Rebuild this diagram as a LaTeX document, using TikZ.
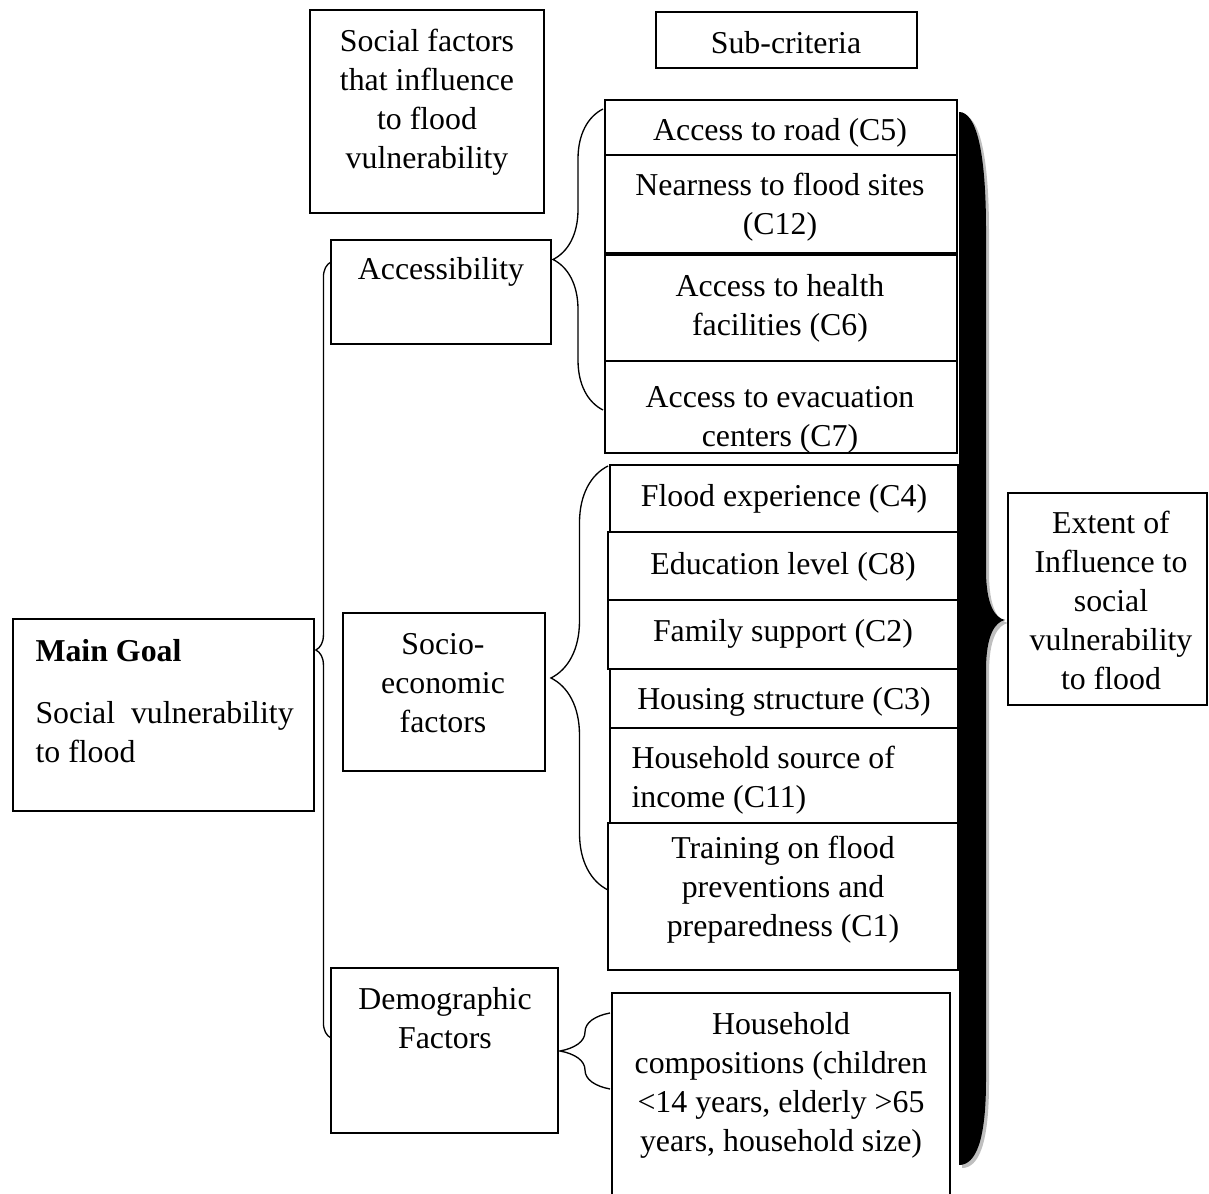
\documentclass[tikz,border=0pt]{standalone}
\usepackage{fontspec}
\setmainfont{Liberation Serif}
\usetikzlibrary{fit,decorations.pathreplacing}
\begin{document}
\begin{tikzpicture}[x=0.377pt,y=-0.377pt,
  box/.style={draw,line width=0.85pt,inner sep=0pt},
  txt/.style={inner sep=0pt,align=center,anchor=north,font=\fontsize{12}{14.7}\selectfont},
  brc/.style={decorate,decoration={brace,amplitude=#1},line width=0.5pt},
  ]
\useasboundingbox (0,0) rectangle (1209,1194);
\clip (0,0) rectangle (1209,1194);

% big black brace (shadow then fill)
\fill[black!25,shift={(3,3)}] (959,1165) -- (959,112) .. controls (976,112) and (986,150) .. (986,230) -- (986,570) .. controls (986,605) and (995,618) .. (1005,620) .. controls (995,622) and (986,635) .. (986,670) -- (986,1080) .. controls (986,1140) and (976,1165) .. (959,1165) -- cycle;
\fill[black] (959,1165) -- (959,112) .. controls (976,112) and (986,150) .. (986,230) -- (986,570) .. controls (986,605) and (995,618) .. (1005,620) .. controls (995,622) and (986,635) .. (986,670) -- (986,1080) .. controls (986,1140) and (976,1165) .. (959,1165) -- cycle;

% boxes
\node[box,fit={(310,10)(544,213)}] (socbox) {};
\node[box,fit={(656,12)(917,68)}] (subbox) {};
\node[box,fit={(331,240)(551,344)}] (accbox) {};
\node[box,fit={(343,613)(545,771)}] (sociobox) {};
\node[box,fit={(331,968)(558,1133)}] (demobox) {};
\node[box,fit={(13,619)(314,811)}] (goalbox) {};
\node[box,fit={(1008,493)(1207,705)}] (extbox) {};
\node[box,fit={(605,100)(957,155)}] (c5box) {};
\node[box,fit={(605,155)(957,253)}] (c12box) {};
\node[box,fit={(605,255)(957,361)}] (c6box) {};
\node[box,fit={(605,361)(957,453)}] (c7box) {};
\node[box,fit={(610,465)(958,532)}] (c4box) {};
\node[box,fit={(608,532)(958,600)}] (c8box) {};
\node[box,fit={(608,600)(958,669)}] (c2box) {};
\node[box,fit={(610,669)(958,728)}] (c3box) {};
\node[box,fit={(610,728)(958,823)}] (c11box) {};
\node[box,fit={(608,823)(958,970)}] (c1box) {};
\node[box,fit={(612,993)(950,1215)}] (housebox) {};

% texts
\node[txt] (tsoc) at (427,29) {Social factors\\that influence\\to flood\\vulnerability};
\node[txt] (tsub) at (786,31) {Sub-criteria};
\node[txt] (tacc) at (441,257) {Accessibility};
\node[txt] (tsocio) at (443,633) {Socio-\\economic\\factors};
\node[txt] (tdemo) at (445,987) {Demographic\\Factors};
\node[txt,anchor=north west,align=left] (tgoal) at (35,639) {\textbf{Main Goal}\\[8.7pt]Social\ \ vulnerability\\to flood};
\node[txt] (text) at (1111,511) {Extent of\\Influence to\\social\\vulnerability\\to flood};
\node[txt] (t5) at (780,118) {Access to road (C5)};
\node[txt] (t12) at (780,173) {Nearness to flood sites\\(C12)};
\node[txt] (t6) at (780,274) {Access to health\\facilities (C6)};
\begin{scope}
\clip (605,361) rectangle (957,452);
\node[txt] (t7) at (780,386) {Access to evacuation\\centers (C7)};
\end{scope}
\node[txt] (t4) at (784,484) {Flood experience (C4)};
\node[txt] (t8) at (783,552) {Education level (C8)};
\node[txt] (t2) at (783,619) {Family support (C2)};
\node[txt] (t3) at (784,687) {Housing structure (C3)};
\node[txt,anchor=north west,align=left] (t11) at (631,746) {Household source of\\income (C11)};
\node[txt] (t1) at (783,836) {Training on flood\\preventions and\\preparedness (C1)};
\node[txt] (thouse) at (781,1012) {Household\\compositions (children\\<14 years, elderly >65\\years, household size)};

% braces
\coordinate (bgA) at (331,1038);
\coordinate (bgB) at (331,262);
\draw[brc=5.7pt] (bgA) -- (bgB);
\coordinate (baA) at (603,410);
\coordinate (baB) at (603,109);
\draw[brc=18.85pt] (baA) -- (baB);
\coordinate (bsA) at (608,890);
\coordinate (bsB) at (608,466);
\draw[brc=21.5pt] (bsA) -- (bsB);
\coordinate (bdA) at (610,1089);
\coordinate (bdB) at (610,1013);
\draw[brc=18.85pt] (bdA) -- (bdB);
\end{tikzpicture}
\end{document}
